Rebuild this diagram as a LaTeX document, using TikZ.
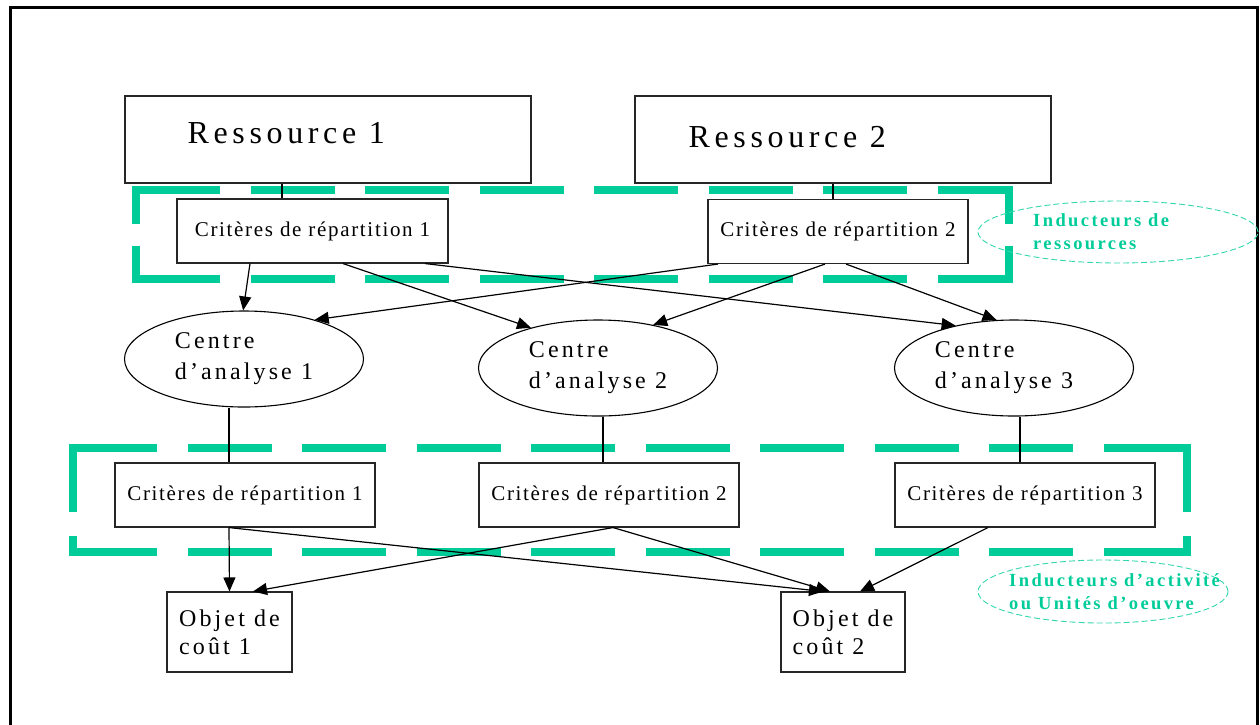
\documentclass[tikz,border=0pt]{standalone}
\usepackage{fontspec}
\setmainfont{Liberation Serif}
\newfontfamily\widefont[LetterSpace=13]{Liberation Serif}
\newfontfamily\titlefont[LetterSpace=14.5]{Liberation Serif}
\newfontfamily\narrowfont[LetterSpace=8]{Liberation Serif}
\usetikzlibrary{arrows.meta,shapes.geometric}

\definecolor{inducgreen}{RGB}{0,204,153}

\tikzset{
  box/.style={draw=black!85, line width=1.1pt, inner sep=0pt},
  resbox/.style={box, minimum height=87pt},
  critbox/.style={box, minimum height=64pt, font=\narrowfont\fontsize{21}{25}\selectfont},
  objbox/.style={box, minimum width=125pt, minimum height=80pt, align=left,
    font=\widefont\fontsize{24}{28}\selectfont},
  centre/.style={ellipse, draw=black, line width=1.1pt, inner sep=0pt,
    minimum width=239pt, minimum height=96pt, align=left,
    font=\widefont\fontsize{24}{31}\selectfont},
  restext/.style={inner sep=0pt, font=\titlefont\fontsize{32}{38}\selectfont},
  tag/.style={ellipse, draw=inducgreen!80, dash pattern=on 6pt off 3pt, line width=0.9pt, inner sep=0pt},
  tagtext/.style={inner sep=0pt, align=left, text=inducgreen,
    font=\widefont\bfseries\fontsize{18.5}{23}\selectfont},
  groupline/.style={draw=inducgreen, line width=8pt},
  wire/.style={draw=black, line width=1.2pt},
  link/.style={wire, -{Triangle[length=14pt, width=12pt]}},
}

\begin{document}
\begin{tikzpicture}[x=1pt, y=-1pt]
  \useasboundingbox (0,0) rectangle (1260,724);
  \draw[line width=3pt] (10,730) -- (10,7) -- (1257,7) -- (1257,730);

  % resources
  \node[resbox, minimum width=406pt] (res1) at (328,139.5) {};
  \node[resbox, minimum width=416pt] (res2) at (843,139.5) {};
  \node[restext, anchor=west] (res1lbl) at ([xshift=63pt, yshift=6pt]res1.west) {Ressource 1};
  \node[restext, anchor=west] (res2lbl) at ([xshift=54pt, yshift=2.5pt]res2.west) {Ressource 2};

  % resource drivers
  \node[critbox, minimum width=271pt] (crittop1) at (312.5,231) {Critères de répartition 1};
  \node[critbox, minimum width=260pt] (crittop2) at (838,231.5) {Critères de répartition 2};

  % analysis centres
  \node[centre] (ctr1) at (244,359) {Centre\\d’analyse 1};
  \node[centre] (ctr2) at (598,368) {Centre\\d’analyse 2};
  \node[centre] (ctr3) at (1014,368) {Centre\\d’analyse 3\hspace*{20pt}};

  % activity drivers
  \node[critbox, minimum width=260pt] (critlow1) at (245,495) {Critères de répartition 1};
  \node[critbox, minimum width=260pt] (critlow2) at (609,495) {Critères de répartition 2};
  \node[critbox, minimum width=260pt] (critlow3) at (1025,495) {Critères de répartition 3};

  % cost objects
  \node[objbox] (obj1) at (229.5,632) {Objet de\\coût 1};
  \node[objbox, minimum width=124pt] (obj2) at (843,632) {Objet de\\coût 2};

  % green groups
  \draw[groupline, dash pattern=on 84pt off 30.5pt] (136,190) -- (1009,190);
  \draw[groupline, dash pattern=on 84pt off 30.5pt] (136,279) -- (1009,279);
  \draw[groupline, dash pattern=on 38pt off 22pt] (136,186) -- (136,283);
  \draw[groupline, dash pattern=on 38pt off 22pt] (1009,186) -- (1009,283);

  \draw[groupline, dash pattern=on 84pt off 30.5pt] (73,448) -- (1187,448);
  \draw[groupline, dash pattern=on 84pt off 30.5pt] (73,552) -- (1187,552);
  \draw[groupline, dash pattern=on 68pt off 24pt] (73,444) -- (73,556);
  \draw[groupline, dash pattern=on 68pt off 24pt] (1187,444) -- (1187,556);

  \node[tag, minimum width=280pt, minimum height=62pt] (tag1) at (1118,232) {};
  \node[tagtext, anchor=west] (tag1txt) at ([xshift=-85pt]tag1.center) {Inducteurs de\\ressources};
  \node[tag, minimum width=250pt, minimum height=63pt] (tag2) at (1103,591.5) {};
  \node[tagtext, anchor=west] (tag2txt) at ([xshift=-94pt]tag2.center) {Inducteurs d’activité\\ou Unités d’oeuvre};

  % connectors
  \draw[wire] ([xshift=-46pt]res1.south) -- ([xshift=-30.5pt]crittop1.north);
  \draw[wire] ([xshift=-10pt]res2.south) -- ([xshift=-5pt]crittop2.north);

  \draw[link] ([xshift=-62.5pt]crittop1.south) -- (ctr1.91);
  \draw[link] ([xshift=30.5pt]crittop1.south) -- (ctr2.149);
  \draw[link] ([xshift=112.5pt]crittop1.south) -- (ctr3.144);
  \draw[link] ([xshift=-120pt]crittop2.south) -- (ctr1.29);
  \draw[link] ([xshift=-13pt]crittop2.south) -- (ctr2.38);
  \draw[link] ([xshift=8pt]crittop2.south) -- (ctr3.110);

  \draw[wire] ([xshift=-15pt]ctr1.south) -- ([xshift=-16pt]critlow1.north);
  \draw[wire] ([xshift=5pt]ctr2.south) -- ([xshift=-6pt]critlow2.north);
  \draw[wire] ([xshift=6pt]ctr3.south) -- ([xshift=-5pt]critlow3.north);

  \draw[link] ([xshift=-16pt]critlow1.south) -- (obj1.north);
  \draw[link] ([xshift=-16pt]critlow1.south) -- ([xshift=-20pt]obj2.north);
  \draw[link] ([xshift=4pt]critlow2.south) -- ([xshift=23.5pt]obj1.north);
  \draw[link] ([xshift=4pt]critlow2.south) -- ([xshift=-13pt]obj2.north);
  \draw[link] ([xshift=-37pt]critlow3.south) -- ([xshift=17pt]obj2.north);
\end{tikzpicture}
\end{document}
